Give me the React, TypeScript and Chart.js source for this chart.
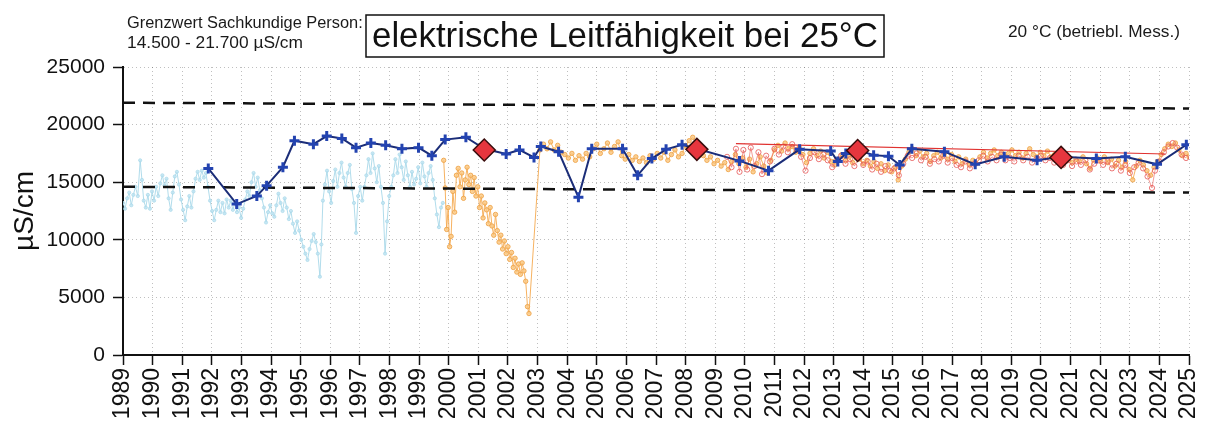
import React, { useEffect, useRef } from "react";
import { Chart, registerables } from "chart.js";

Chart.register(...registerables);

type Pt = [number, number];

// x-axis range / ticks
const xMin = 1989;
const xMax = 2025;
const yMax = 25000;
const yStep = 5000;

// Grenzwert band (dashed lines), values at 1989 and 2025
const upperLimit: Pt[] = [[1989, 21900], [2025, 21400]];
const lowerLimit: Pt[] = [[1989, 14600], [2025, 14100]];

// light blue measurement series (1989 - 1999)
const lightBlueSeries: Pt[] = [
  [1989.00, 13200], [1989.07, 12700], [1989.14, 13600], [1989.21, 14100], [1989.28, 13000],
  [1989.35, 13900], [1989.42, 14600], [1989.50, 13800], [1989.58, 16900], [1989.64, 15200],
  [1989.70, 13400], [1989.77, 12800], [1989.84, 13900], [1989.91, 12700], [1989.98, 14200],
  [1990.05, 13400], [1990.12, 14600], [1990.19, 13800], [1990.26, 14900], [1990.33, 15600],
  [1990.40, 14700], [1990.47, 15300], [1990.54, 13600], [1990.61, 12600], [1990.68, 14100],
  [1990.75, 15500], [1990.82, 15900], [1990.89, 14800], [1990.96, 13500], [1991.03, 12600],
  [1991.10, 11700], [1991.17, 12900], [1991.24, 13800], [1991.31, 12800], [1991.38, 14200],
  [1991.45, 15300], [1991.52, 15900], [1991.59, 15200], [1991.66, 16000], [1991.73, 15400],
  [1991.80, 15800], [1991.87, 14600], [1991.94, 13400], [1992.01, 12500], [1992.08, 11700],
  [1992.15, 12600], [1992.22, 13400], [1992.29, 12400], [1992.36, 13200], [1992.43, 12300],
  [1992.50, 13500], [1992.57, 12800], [1992.64, 13400], [1992.71, 12600], [1992.78, 13200],
  [1992.85, 12400], [1992.92, 12800], [1992.99, 11900], [1993.06, 12700], [1993.13, 13500],
  [1993.20, 14200], [1993.27, 13800], [1993.34, 15000], [1993.41, 15800], [1993.48, 14600],
  [1993.55, 15400], [1993.62, 14300], [1993.69, 13600], [1993.76, 12800], [1993.83, 11500],
  [1993.90, 12400], [1993.97, 13000], [1994.04, 12300], [1994.11, 12000], [1994.18, 13000],
  [1994.25, 14000], [1994.32, 13200], [1994.39, 12500], [1994.46, 13600], [1994.53, 12800],
  [1994.60, 11800], [1994.67, 12500], [1994.74, 11400], [1994.81, 10600], [1994.88, 11600],
  [1994.95, 10800], [1995.02, 10000], [1995.09, 9400], [1995.16, 8800], [1995.23, 8250],
  [1995.30, 9200], [1995.37, 9900], [1995.44, 10500], [1995.51, 9800], [1995.58, 8800],
  [1995.65, 6800], [1995.70, 9600], [1995.75, 13400], [1995.82, 14800], [1995.89, 16000],
  [1995.96, 14200], [1996.03, 13200], [1996.10, 15100], [1996.17, 16100], [1996.24, 14600],
  [1996.31, 15800], [1996.38, 16700], [1996.45, 15400], [1996.52, 14600], [1996.59, 15800],
  [1996.66, 16500], [1996.73, 14400], [1996.80, 13200], [1996.87, 10600], [1996.94, 13800],
  [1997.01, 14600], [1997.08, 13400], [1997.15, 14600], [1997.22, 15600], [1997.29, 17000],
  [1997.36, 15800], [1997.43, 17500], [1997.50, 16200], [1997.57, 15000], [1997.64, 16400],
  [1997.71, 14600], [1997.78, 13200], [1997.85, 8800], [1997.92, 11600], [1997.99, 13800],
  [1998.06, 14600], [1998.13, 15600], [1998.20, 17000], [1998.27, 15800], [1998.34, 17400],
  [1998.41, 16300], [1998.48, 15200], [1998.55, 16800], [1998.62, 15600], [1998.69, 14600],
  [1998.76, 15900], [1998.83, 14800], [1998.90, 15300], [1998.97, 16300], [1999.04, 14900],
  [1999.11, 16700], [1999.18, 15500], [1999.25, 14600], [1999.32, 15800], [1999.39, 16400],
  [1999.46, 15200], [1999.53, 13600], [1999.60, 12200], [1999.67, 11100], [1999.74, 12800],
  [1999.80, 13200],
];

// orange measurement series (2000 - 2025)
const orangeSeries: Pt[] = [
  [1999.83, 16900], [1999.88, 14500], [1999.93, 10900], [1999.98, 12800], [2000.03, 9400],
  [2000.08, 10300], [2000.14, 14200], [2000.20, 12400], [2000.26, 15600], [2000.32, 16200],
  [2000.38, 14600], [2000.44, 15800], [2000.50, 13600], [2000.56, 15200], [2000.62, 16300],
  [2000.68, 14800], [2000.74, 15600], [2000.80, 14200], [2000.86, 15400], [2000.92, 13800],
  [2000.98, 14600], [2001.04, 12800], [2001.10, 13800], [2001.16, 11900], [2001.22, 13200],
  [2001.28, 12600], [2001.34, 11400], [2001.40, 12800], [2001.46, 11200], [2001.52, 10400],
  [2001.58, 12200], [2001.64, 10800], [2001.70, 9800], [2001.76, 10400], [2001.82, 9200],
  [2001.88, 9900], [2001.94, 8800], [2002.00, 9400], [2002.06, 8300], [2002.12, 8900],
  [2002.18, 7600], [2002.24, 8400], [2002.30, 7200], [2002.36, 7900], [2002.42, 7000],
  [2002.48, 8000], [2002.54, 7300], [2002.60, 6400], [2002.66, 4200], [2002.71, 3600],
  [2003.08, 17800], [2003.20, 18300], [2003.32, 17900], [2003.44, 18500], [2003.56, 17800],
  [2003.68, 18200], [2003.80, 17600], [2003.92, 17400], [2004.04, 17100], [2004.16, 17500],
  [2004.28, 16900], [2004.40, 17300], [2004.52, 17000], [2004.64, 17500], [2004.76, 17200],
  [2004.88, 17900], [2005.00, 18300], [2005.12, 17500], [2005.24, 17900], [2005.36, 18400],
  [2005.48, 17600], [2005.60, 18100], [2005.72, 18500], [2005.84, 17300], [2005.96, 17000],
  [2006.08, 17400], [2006.20, 16900], [2006.32, 17200], [2006.44, 16800], [2006.56, 17100],
  [2006.68, 16700], [2006.80, 17300], [2006.92, 17000], [2007.04, 17500], [2007.16, 17100],
  [2007.28, 17600], [2007.40, 16900], [2007.52, 17400], [2007.64, 17800], [2007.76, 17200],
  [2007.88, 17500], [2008.00, 18200], [2008.12, 18600], [2008.24, 18900], [2008.36, 18200],
  [2008.48, 17800], [2008.60, 17300], [2008.72, 16900], [2008.84, 17200], [2008.96, 16600],
  [2009.08, 16900], [2009.20, 16400], [2009.32, 16700], [2009.44, 16100], [2009.56, 16800],
  [2009.68, 17400], [2009.80, 16600], [2009.92, 17100], [2010.04, 16300], [2010.16, 17000],
  [2010.28, 15900], [2010.40, 16600], [2010.52, 17200], [2010.64, 16400], [2010.76, 15800],
  [2010.88, 16900], [2011.00, 17800], [2011.12, 18200], [2011.24, 17700], [2011.36, 18400],
  [2011.48, 17900], [2011.60, 18100], [2011.72, 17600], [2011.84, 18000], [2011.96, 17400],
  [2012.08, 16700], [2012.20, 17500], [2012.32, 17900], [2012.44, 17300], [2012.56, 17700],
  [2012.68, 17100], [2012.80, 17600], [2012.92, 16800], [2013.04, 16500], [2013.16, 17000],
  [2013.28, 17400], [2013.40, 16900], [2013.52, 17200], [2013.64, 16700], [2013.76, 17300],
  [2013.88, 17000], [2014.00, 16600], [2014.12, 16900], [2014.24, 16400], [2014.36, 16800],
  [2014.48, 16200], [2014.60, 16600], [2014.72, 16000], [2014.84, 16500], [2014.96, 15900],
  [2015.08, 16300], [2015.18, 15200], [2015.30, 16400], [2015.42, 17000], [2015.54, 17600],
  [2015.66, 17900], [2015.78, 17300], [2015.90, 17700], [2016.02, 17200], [2016.14, 17500],
  [2016.26, 16800], [2016.38, 17300], [2016.50, 17600], [2016.62, 17100], [2016.74, 17500],
  [2016.86, 17000], [2016.98, 17400], [2017.10, 16800], [2017.22, 17200], [2017.34, 16600],
  [2017.46, 17000], [2017.58, 16500], [2017.70, 16900], [2017.82, 16600], [2017.94, 17200],
  [2018.06, 17600], [2018.18, 17100], [2018.30, 17500], [2018.42, 17800], [2018.54, 17300],
  [2018.66, 17600], [2018.78, 17200], [2018.90, 17500], [2019.02, 17800], [2019.14, 17300],
  [2019.26, 17600], [2019.38, 17100], [2019.50, 17500], [2019.62, 17900], [2019.74, 17400],
  [2019.86, 17200], [2019.98, 17600], [2020.10, 17300], [2020.22, 17700], [2020.34, 17200],
  [2020.46, 17400], [2020.58, 16900], [2020.70, 17200], [2020.82, 16800], [2020.94, 17100],
  [2021.06, 16700], [2021.18, 17000], [2021.30, 16800], [2021.42, 17200], [2021.54, 16600],
  [2021.66, 16200], [2021.78, 16900], [2021.90, 17100], [2022.02, 16800], [2022.14, 17200],
  [2022.26, 16700], [2022.38, 17000], [2022.50, 16400], [2022.62, 16900], [2022.74, 16300],
  [2022.86, 16800], [2022.98, 16100], [2023.10, 15200], [2023.22, 16400], [2023.34, 16900],
  [2023.46, 16500], [2023.58, 16000], [2023.70, 15600], [2023.82, 16300], [2023.94, 16800],
  [2024.06, 17400], [2024.18, 17900], [2024.30, 18300], [2024.42, 18100], [2024.54, 18400],
  [2024.66, 17800], [2024.78, 17300], [2024.90, 17500], [2025.00, 17200],
];

// red open-circle series (2009 - 2025)
const redSeries: Pt[] = [
  [2009.40, 17200], [2009.55, 16300], [2009.70, 17900], [2009.82, 15900], [2009.95, 17800],
  [2010.08, 16100], [2010.20, 18000], [2010.33, 16400], [2010.46, 17600], [2010.58, 15700],
  [2010.72, 17300], [2010.85, 16800], [2011.00, 17900], [2011.15, 17400], [2011.30, 18100],
  [2011.45, 17600], [2011.60, 18300], [2011.75, 17800], [2011.90, 17200], [2012.05, 16000],
  [2012.20, 17100], [2012.35, 17600], [2012.50, 17000], [2012.65, 17400], [2012.80, 16900],
  [2012.95, 16300], [2013.10, 16900], [2013.25, 17300], [2013.40, 16600], [2013.55, 17000],
  [2013.70, 16400], [2013.85, 17100], [2014.00, 16500], [2014.15, 16800], [2014.30, 16100],
  [2014.45, 16600], [2014.60, 15900], [2014.75, 16400], [2014.90, 16000], [2015.05, 16200],
  [2015.20, 15600], [2015.35, 16600], [2015.50, 17300], [2015.65, 17100], [2015.80, 17500],
  [2015.95, 16900], [2016.10, 17200], [2016.25, 16600], [2016.40, 17000], [2016.55, 16800],
  [2016.70, 17300], [2016.85, 16700], [2017.00, 17100], [2017.15, 16500], [2017.30, 16300],
  [2017.45, 16800], [2017.60, 16200], [2017.75, 16600], [2017.90, 16900], [2018.05, 17300],
  [2018.20, 16800], [2018.35, 17200], [2018.50, 16900], [2018.65, 17400], [2018.80, 16900],
  [2018.95, 17100], [2019.10, 16800], [2019.25, 17300], [2019.40, 16900], [2019.55, 17200],
  [2019.70, 16700], [2019.85, 17000], [2020.00, 17300], [2020.15, 16900], [2020.30, 17100],
  [2020.45, 16700], [2020.60, 17000], [2020.75, 16500], [2020.90, 16900], [2021.05, 16400],
  [2021.20, 16800], [2021.35, 16500], [2021.50, 16900], [2021.65, 16100], [2021.80, 16600],
  [2021.95, 16900], [2022.10, 16500], [2022.25, 16800], [2022.40, 16200], [2022.55, 16600],
  [2022.70, 16000], [2022.85, 16500], [2023.00, 15800], [2023.15, 16300], [2023.30, 16700],
  [2023.45, 16200], [2023.60, 15500], [2023.75, 14500], [2023.85, 16000], [2024.00, 16800],
  [2024.15, 17600], [2024.30, 18100], [2024.45, 18400], [2024.60, 18000], [2024.75, 17400],
  [2024.90, 17100],
];

// thin red trend line
const redTrend: Pt[] = [[2009.7, 18350], [2024.2, 17450]];

// dark blue series with "+" markers
const blueSeries: Pt[] = [
  [1991.88, 16200], [1992.84, 13100], [1993.52, 13800], [1993.85, 14700], [1994.40, 16300],
  [1994.79, 18600], [1995.43, 18300], [1995.88, 19000], [1996.39, 18800], [1996.87, 18000],
  [1997.37, 18400], [1997.87, 18200], [1998.42, 17900], [1998.98, 18000], [1999.43, 17300],
  [1999.88, 18700], [2000.58, 18900], [2001.20, 17900], [2001.94, 17450], [2002.39, 17800],
  [2002.88, 17150], [2003.11, 18100], [2003.71, 17650], [2004.38, 13700], [2004.83, 17900],
  [2005.87, 17900], [2006.38, 15600], [2006.86, 17050], [2007.34, 17850], [2007.88, 18250],
  [2008.38, 17900], [2009.82, 16850], [2010.80, 16000], [2011.85, 17850], [2012.90, 17700],
  [2013.14, 16800], [2013.41, 17500], [2013.81, 17800], [2014.35, 17350], [2014.85, 17250],
  [2015.23, 16500], [2015.64, 17900], [2016.74, 17650], [2017.78, 16550], [2018.76, 17200],
  [2019.87, 16900], [2020.68, 17200], [2021.87, 17050], [2022.85, 17200], [2023.92, 16550],
  [2024.91, 18250],
];

// red diamonds
const diamondSeries: Pt[] = [[2001.2, 17800], [2008.38, 17850], [2013.81, 17750], [2020.68, 17150]];

const titleText = "elektrische Leitfähigkeit bei 25°C";
const noteLine1 = "Grenzwert Sachkundige Person:";
const noteLine2 = "14.500 - 21.700 µS/cm";
const rightNote = "20 °C (betriebl. Mess.)";
const yTitle = "µS/cm";

const FAM = '"Liberation Sans", Arial, sans-serif';

const xy = (arr: Pt[]) => arr.map(([x, y]) => ({ x, y }));

function fitText(ctx: CanvasRenderingContext2D, text: string, family: string, width: number) {
  ctx.font = `100px ${family}`;
  const w = ctx.measureText(text).width;
  return (100 * width) / w;
}

const headerPlugin = {
  id: "header",
  afterDraw(chart: any) {
    const ctx: CanvasRenderingContext2D = chart.ctx;
    ctx.save();
    ctx.fillStyle = "#1a1a1a";
    ctx.textBaseline = "alphabetic";
    ctx.textAlign = "left";
    let s = fitText(ctx, noteLine1, FAM, 236);
    ctx.font = `${s}px ${FAM}`;
    ctx.fillText(noteLine1, 127, 28);
    s = fitText(ctx, noteLine2, FAM, 176);
    ctx.font = `${s}px ${FAM}`;
    ctx.fillText(noteLine2, 127, 47.5);
    s = fitText(ctx, rightNote, FAM, 172);
    ctx.font = `${s}px ${FAM}`;
    ctx.fillText(rightNote, 1008, 37);
    // title box
    ctx.strokeStyle = "#111";
    ctx.lineWidth = 1.5;
    ctx.strokeRect(366, 15, 518, 42);
    s = fitText(ctx, titleText, FAM, 506);
    ctx.font = `${s}px ${FAM}`;
    ctx.fillStyle = "#111";
    ctx.fillText(titleText, 372, 47);
    ctx.restore();
  },
};

export default function App() {
  const ref = useRef<HTMLCanvasElement | null>(null);

  useEffect(() => {
    document.body.style.margin = "0";
    const canvas = ref.current;
    if (!canvas) return;
    const chart = new Chart(canvas, {
      type: "scatter",
      data: {
        datasets: [
          {
            label: "Diamanten",
            data: xy(diamondSeries),
            showLine: false,
            pointStyle: "rectRot",
            pointRadius: 11,
            backgroundColor: "#e6363e",
            borderColor: "#3a0d0d",
            borderWidth: 1.5,
          },
          {
            label: "Blau",
            data: xy(blueSeries),
            showLine: true,
            borderColor: "#1b2d78",
            borderWidth: 2,
            pointStyle: "cross",
            pointRadius: 5,
            pointBorderColor: "#2343b0",
            pointBorderWidth: 3,
            backgroundColor: "#2343b0",
          },
          {
            label: "Obergrenze",
            data: xy(upperLimit),
            showLine: true,
            borderColor: "#111",
            borderWidth: 2.5,
            borderDash: [12, 8],
            pointRadius: 0,
          },
          {
            label: "Untergrenze",
            data: xy(lowerLimit),
            showLine: true,
            borderColor: "#111",
            borderWidth: 2.5,
            borderDash: [12, 8],
            pointRadius: 0,
          },
          {
            label: "Trend",
            data: xy(redTrend),
            showLine: true,
            borderColor: "#e0312f",
            borderWidth: 1.2,
            pointRadius: 0,
          },
          {
            label: "Rot",
            data: xy(redSeries),
            showLine: true,
            borderColor: "rgba(235,90,80,0.75)",
            borderWidth: 0.8,
            pointRadius: 2.6,
            pointBorderWidth: 1,
            pointBorderColor: "rgba(232,95,95,0.85)",
            pointBackgroundColor: "rgba(255,255,255,0)",
          },
          {
            label: "Orange",
            data: xy(orangeSeries),
            showLine: true,
            borderColor: "rgba(245,170,80,0.9)",
            borderWidth: 1,
            pointRadius: 2.2,
            pointBorderWidth: 1,
            pointBorderColor: "rgba(240,165,75,0.9)",
            pointBackgroundColor: "rgba(250,200,130,0.8)",
          },
          {
            label: "Hellblau",
            data: xy(lightBlueSeries),
            showLine: true,
            borderColor: "rgba(168,216,233,0.9)",
            borderWidth: 1,
            pointRadius: 1.6,
            pointBorderWidth: 0.8,
            pointBorderColor: "rgba(168,216,233,0.9)",
            pointBackgroundColor: "rgba(190,228,242,0.8)",
          },
        ],
      },
      options: {
        responsive: false,
        animation: false,
        events: [],
        layout: { padding: { top: 67, right: 16, left: 0, bottom: 0 } },
        plugins: {
          legend: { display: false },
          tooltip: { enabled: false },
        },
        scales: {
          x: {
            type: "linear",
            min: xMin,
            max: xMax,
            afterFit: (scale: any) => {
              scale.height = 80;
              scale.paddingLeft = 0;
              scale.paddingRight = 0;
            },
            ticks: {
              stepSize: 1,
              autoSkip: false,
              maxRotation: 90,
              minRotation: 90,
              padding: 3,
              color: "#111",
              font: { family: FAM, size: 23 },
              callback: (v: any) => String(v),
            },
            grid: {
              color: "rgba(0,0,0,0.25)",
              lineWidth: 1,
              tickLength: 10,
              tickColor: "#111",
              tickWidth: 1.5,
            },
            border: { display: true, color: "#111", width: 2, dash: [1, 3] },
          },
          y: {
            min: 0,
            max: yMax,
            afterFit: (scale: any) => {
              scale.width = 123;
            },
            ticks: {
              stepSize: yStep,
              padding: 8,
              color: "#111",
              font: { family: FAM, size: 21 },
              callback: (v: any) => String(v),
            },
            grid: {
              color: "rgba(0,0,0,0.25)",
              lineWidth: 1,
              tickLength: 10,
              tickColor: "#111",
              tickWidth: 1.5,
            },
            border: { display: true, color: "#111", width: 2, dash: [1, 3] },
            title: {
              display: true,
              text: yTitle,
              color: "#111",
              font: { family: FAM, size: 28 },
              padding: { top: 8, bottom: 0 },
            },
          },
        },
      },
      plugins: [headerPlugin],
    } as any);
    return () => chart.destroy();
  }, []);

  return (
    <div style={{ width: 1205, height: 435, background: "#fff" }}>
      <canvas ref={ref} width={1205} height={435} style={{ display: "block" }} />
    </div>
  );
}
